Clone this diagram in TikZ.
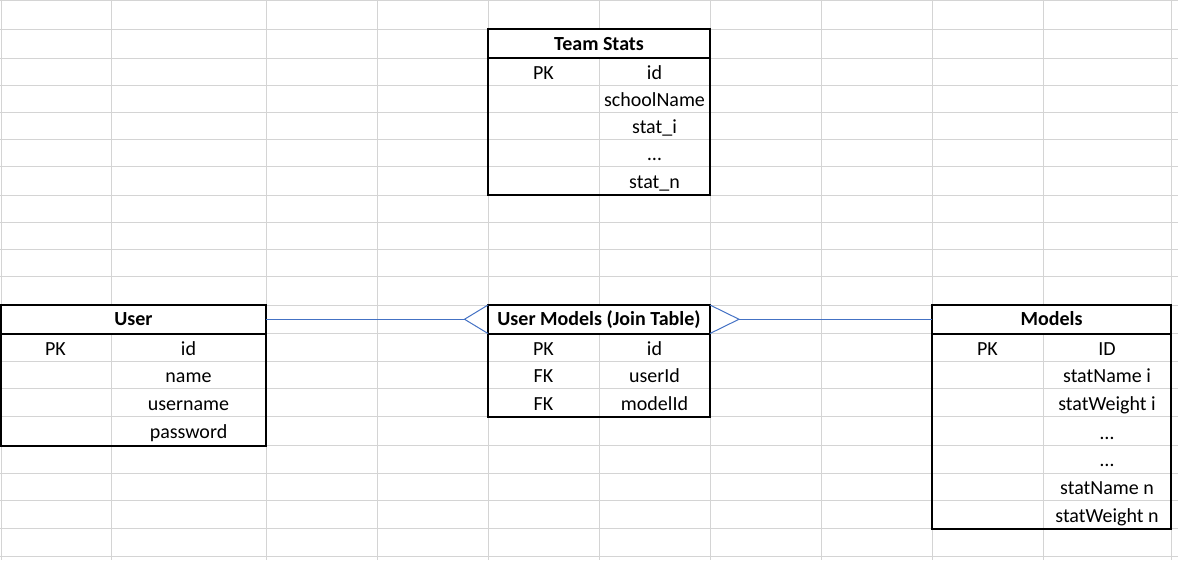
\documentclass[tikz,border=0pt]{standalone}
\usepackage{fontspec}
\setmainfont{Carlito}
\usepackage{tikz}

\definecolor{gridgray}{RGB}{212,212,212}
\definecolor{linkblue}{RGB}{68,114,196}

\begin{document}
\begin{tikzpicture}[x=1pt, y=-1pt,
		gridStyle/.style={draw=gridgray, line width=1pt},
		cellStyle/.style={anchor=base, inner sep=0pt, font=\fontsize{20}{24}\selectfont},
		headStyle/.style={draw, fill=white, line width=2pt, inner sep=0pt, outer sep=0pt, text height=13pt, text depth=0pt, minimum height=28.5pt, font=\fontsize{20}{24}\selectfont\bfseries},
		boxStyle/.style={draw, line width=2pt},
		linkStyle/.style={draw=linkblue, line width=1pt}]
			\useasboundingbox (0,0) rectangle (1178,560);

			% Sheet grid
			\foreach \gx in {1,111,266,377,488,599,710,821,932,1043,1171}
				\draw[gridStyle] (\gx,0) -- (\gx,560);
			\foreach \gy in {0.5,29,58,85,112,139,166,195,222,249,276,305,333.5,361,388.5,416.5,445.5,473,500.5,528.5,556.5}
				\draw[gridStyle] (0,\gy) -- (1178,\gy);

			% Team Stats
			\node[headStyle, minimum width=222pt, minimum height=29pt] (teamstats) at (599, 43.5) {Team Stats};
			\draw[boxStyle] (teamstats.south west) rectangle (710, 195);
			\node[cellStyle] (ts_pk) at (543.5, 79) {PK};
			\node[cellStyle] (ts_id) at (654.5, 79) {id};
			\node[cellStyle] (ts_school) at (654.5, 106) {schoolName};
			\node[cellStyle] (ts_stati) at (654.5, 133) {stat\_i};
			\node[cellStyle] (ts_dots) at (654.5, 160) {…};
			\node[cellStyle] (ts_statn) at (654.5, 188.5) {stat\_n};

			% User
			\node[headStyle, minimum width=265pt] (user) at (133.5, 319.25) {User};
			\draw[boxStyle] (user.south west) rectangle (266, 445.5);
			\node[cellStyle] (u_pk) at (55.5, 355) {PK};
			\node[cellStyle] (u_id) at (188.5, 355) {id};
			\node[cellStyle] (u_name) at (188.5, 382) {name};
			\node[cellStyle] (u_username) at (188.5, 410) {username};
			\node[cellStyle] (u_password) at (188.5, 438.5) {password};

			% User Models (join)
			\node[headStyle, minimum width=222pt] (usermodels) at (599, 319.25) {User Models (Join Table)};
			\draw[boxStyle] (usermodels.south west) rectangle (710, 416.5);
			\node[cellStyle] (um_pk) at (543.5, 355) {PK};
			\node[cellStyle] (um_id) at (654.5, 355) {id};
			\node[cellStyle] (um_fk1) at (543.5, 382) {FK};
			\node[cellStyle] (um_user) at (654.5, 382) {userId};
			\node[cellStyle] (um_fk2) at (543.5, 410) {FK};
			\node[cellStyle] (um_model) at (654.5, 410) {modelId};

			% Models
			\node[headStyle, minimum width=239pt] (models) at (1051.5, 319.25) {Models};
			\draw[boxStyle] (models.south west) rectangle (1171, 528.5);
			\node[cellStyle] (m_pk) at (987.5, 355) {PK};
			\node[cellStyle] (m_id) at (1107, 355) {ID};
			\node[cellStyle] (m_namei) at (1107, 382) {statName i};
			\node[cellStyle] (m_weighti) at (1107, 410) {statWeight i};
			\node[cellStyle] (m_dots1) at (1107, 439) {…};
			\node[cellStyle] (m_dots2) at (1107, 466.5) {…};
			\node[cellStyle] (m_namen) at (1107, 494) {statName n};
			\node[cellStyle] (m_weightn) at (1107, 522) {statWeight n};

			% Links
			\coordinate (fork_l) at (464.5, 319.25);
			\coordinate (fork_r) at (739, 319.25);
			\draw[linkStyle] (user.east) -- (fork_l);
			\draw[linkStyle] (usermodels.north west) -- (fork_l) -- (usermodels.south west);
			\draw[linkStyle] (usermodels.north east) -- (fork_r) -- (usermodels.south east);
			\draw[linkStyle] (fork_r) -- (models.west);

		\end{tikzpicture}
\end{document}
